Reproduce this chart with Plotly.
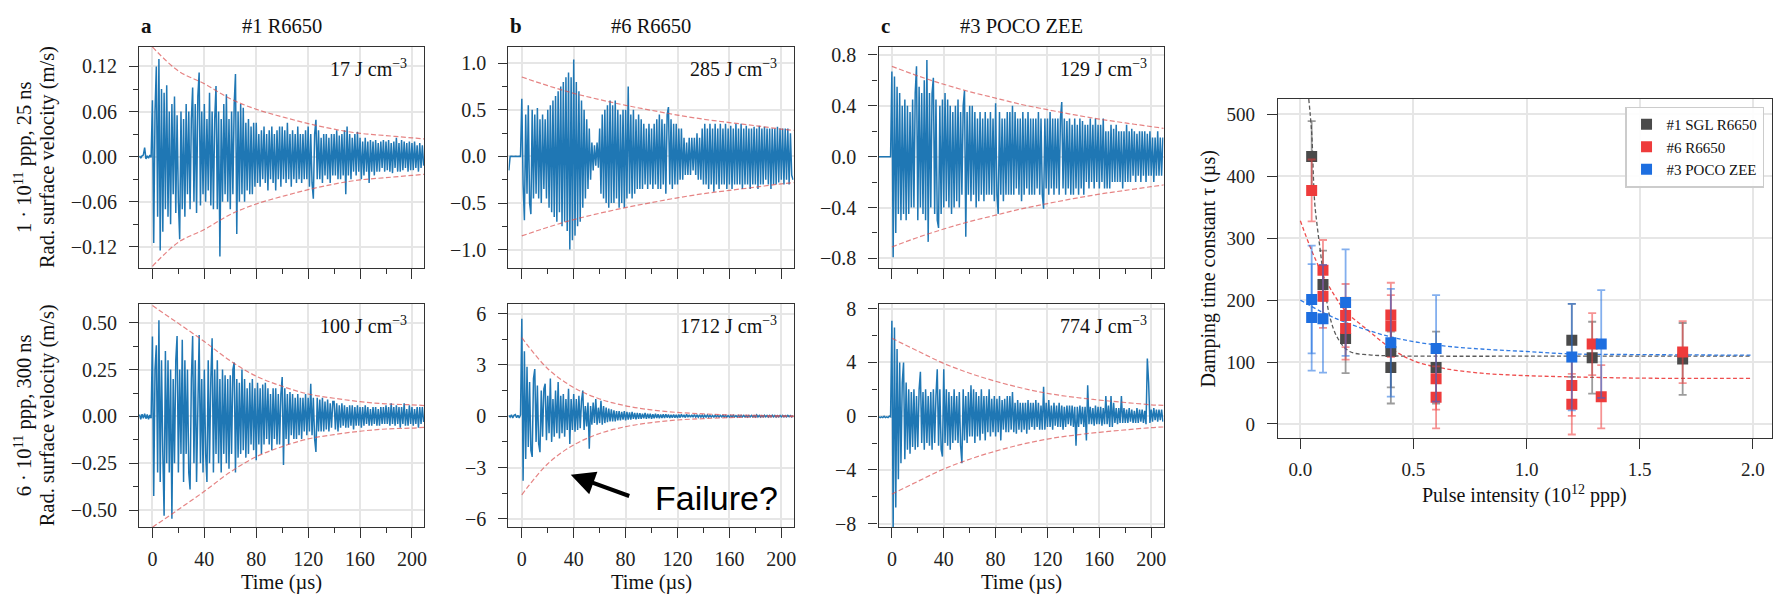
import numpy as np
import plotly.graph_objects as go

# ---------------- data: waveforms (sampled every 1 us from -10 us) ----------------
T_START, T_STEP = -10, 1

vel_a_top = [
    0.001, -0.002, 0.001, 0.002, 0.012, -0.003, 0.001, -0.002, 0.002, -0.001,
    0.075, -0.115, 0.06, 0.12, -0.08, 0.13, -0.125, 0.09, -0.1, 0.085,
    -0.07, 0.095, -0.08, 0.06, -0.09, 0.07, -0.05, 0.08, -0.075, 0.055,
    -0.06, -0.11, 0.06, -0.07, 0.05, -0.08, 0.07, -0.05, 0.06, -0.07,
    0.05, 0.092, -0.06, 0.07, -0.075, 0.08, 0.112, -0.065, 0.06, -0.05,
    0.07, -0.06, 0.05, -0.045, 0.085, -0.065, 0.06, -0.07, 0.05, 0.094,
    -0.07, 0.06, -0.133, 0.05, -0.06, 0.07, -0.05, 0.083, -0.06, 0.05,
    -0.07, 0.06, -0.05, 0.07, 0.11, -0.103, 0.06, -0.06, 0.07, -0.05,
    0.065, -0.06, 0.045, -0.045, 0.05, -0.05, 0.04, -0.05, 0.045, -0.04,
    0.045, -0.035, 0.03, -0.04, 0.035, -0.03, 0.04, -0.035, 0.03, -0.045,
    0.035, -0.03, 0.04, -0.035, 0.03, -0.045, 0.035, -0.03, 0.04, -0.04,
    0.04, -0.03, 0.035, -0.035, 0.045, -0.03, 0.03, -0.04, 0.035, -0.03,
    0.03, -0.035, 0.04, -0.03, 0.03, -0.035, 0.03, -0.03, 0.035, -0.03,
    0.04, -0.04, 0.03, -0.035, -0.056, 0.03, 0.049, -0.03, 0.035, -0.03,
    0.025, -0.035, 0.03, -0.025, 0.03, -0.03, 0.025, -0.035, 0.03, -0.025,
    0.03, -0.025, 0.035, -0.03, 0.028, -0.03, 0.03, -0.025, 0.035, -0.05,
    0.04, -0.025, 0.03, -0.03, 0.025, -0.02, 0.03, -0.025, 0.033, -0.02,
    0.025, -0.03, 0.02, -0.025, 0.025, -0.02, 0.02, -0.035, 0.022, -0.02,
    0.02, -0.025, 0.022, -0.02, 0.018, -0.02, 0.02, -0.015, 0.022, -0.02,
    0.02, -0.018, 0.022, -0.02, 0.018, -0.022, 0.02, -0.015, 0.025, -0.02,
    0.018, -0.02, 0.022, -0.018, 0.02, -0.015, 0.018, -0.02, 0.02, -0.018,
    0.018, -0.018, 0.02, -0.015, 0.015, -0.02, 0.018, -0.015, 0.015, -0.012]

vel_a_bot = [
    0.01, -0.015, 0.012, -0.01, 0.015, -0.012, 0.01, -0.015, 0.008, -0.01,
    0.427, -0.425, 0.25, 0.38, -0.3, 0.514, -0.35, 0.3, -0.2, -0.53,
    0.35, -0.25, 0.3, -0.3, 0.25, -0.547, 0.2, -0.25, 0.3, 0.43,
    -0.3, 0.25, -0.2, 0.41, -0.35, 0.3, -0.2, 0.25, -0.3, -0.39,
    0.2, 0.43, -0.25, 0.3, -0.35, 0.2, 0.435, -0.25, 0.2, -0.3,
    0.25, -0.2, -0.35, 0.3, -0.25, 0.2, 0.417, -0.3, 0.25, -0.2,
    0.3, -0.25, 0.2, -0.3, 0.25, -0.2, 0.22, -0.25, 0.2, -0.28,
    0.22, -0.2, 0.25, 0.288, -0.3, 0.2, -0.22, 0.18, -0.2, 0.25,
    -0.18, 0.2, -0.22, 0.15, -0.2, 0.18, -0.15, 0.2, -0.18, 0.15,
    -0.234, 0.18, -0.15, 0.15, -0.2, 0.17, -0.15, 0.18, -0.12, 0.15,
    -0.15, 0.12, -0.18, 0.15, -0.12, 0.15, -0.15, 0.12, -0.15, 0.12,
    0.21, -0.26, 0.15, -0.12, 0.12, -0.15, 0.13, -0.1, 0.12, -0.12,
    0.1, -0.12, 0.12, -0.1, 0.1, -0.12, 0.1, -0.08, 0.12, -0.1,
    0.1, -0.08, 0.175, -0.1, 0.1, -0.12, -0.19, 0.1, -0.08, 0.09,
    -0.08, 0.1, -0.08, 0.08, -0.07, 0.09, -0.08, 0.07, -0.06, 0.08,
    0.08, -0.07, 0.07, -0.08, 0.06, -0.06, 0.07, -0.05, 0.06, -0.06,
    0.05, -0.06, 0.06, -0.05, 0.06, -0.07, 0.05, -0.05, 0.06, -0.05,
    0.05, -0.06, 0.05, -0.05, 0.06, -0.04, 0.05, -0.05, 0.04, -0.05,
    0.05, -0.04, 0.05, -0.05, 0.04, -0.05, 0.05, -0.04, 0.05, -0.04,
    0.06, -0.04, 0.05, -0.05, 0.07, -0.04, 0.05, -0.05, 0.06, -0.04,
    0.05, -0.06, 0.05, -0.04, 0.07, -0.05, 0.04, -0.05, 0.06, -0.04,
    0.05, -0.05, 0.04, -0.04, 0.05, -0.06, 0.05, -0.04, 0.05, -0.03]

vel_b_top = [
    -0.15, 0.0, 0.003, -0.002, 0.0, 0.002, -0.002, 0.0, 0.002, 0.0,
    0.62, -0.3, -0.685, 0.45, -0.4, 0.55, -0.5, -0.62, 0.5, -0.45,
    0.45, -0.4, 0.52, -0.45, 0.4, -0.5, 0.45, -0.35, 0.4, -0.45,
    0.5, -0.55, 0.55, -0.6, 0.6, -0.65, 0.65, -0.7, 0.7, -0.6,
    0.75, -0.75, 0.8, -0.7, 0.85, -0.8, 0.9, -1.0, 0.85, -0.9,
    1.04, -0.85, 0.8, -0.75, 0.7, -0.7, 0.6, -0.55, 0.5, -0.45,
    0.4, -0.35, 0.3, -0.25, 0.15, -0.15, 0.12, -0.1, 0.15, -0.12,
    0.3, -0.4, 0.45, -0.45, 0.5, -0.5, 0.55, -0.55, 0.6, -0.5,
    0.55, -0.5, 0.6, -0.45, 0.5, -0.55, 0.45, -0.5, 0.5, -0.55,
    0.5, -0.45, 0.75, -0.4, 0.45, -0.45, 0.5, -0.4, 0.4, -0.35,
    0.45, -0.35, 0.4, -0.35, 0.35, -0.3, 0.3, -0.35, 0.35, -0.3,
    0.3, -0.35, 0.35, -0.3, 0.4, -0.35, 0.45, -0.35, 0.4, -0.3,
    0.35, -0.4, 0.45, 0.53, -0.3, 0.4, -0.35, 0.35, -0.3, 0.35,
    -0.3, 0.3, -0.25, 0.3, -0.25, 0.2, -0.2, 0.15, -0.2, 0.2,
    -0.2, 0.2, -0.15, 0.2, -0.2, 0.25, -0.25, 0.2, -0.25, 0.3,
    -0.3, 0.35, -0.3, 0.3, -0.35, 0.35, -0.3, 0.3, -0.38, 0.35,
    -0.3, 0.3, -0.35, 0.35, -0.3, 0.3, -0.3, 0.35, -0.35, 0.3,
    -0.3, 0.33, -0.35, 0.3, -0.3, 0.35, -0.3, 0.3, -0.3, 0.35,
    -0.35, 0.3, -0.3, 0.33, -0.3, 0.3, -0.35, 0.3, -0.3, 0.32,
    -0.3, 0.3, -0.35, 0.33, -0.3, 0.3, -0.3, 0.32, -0.25, 0.3,
    -0.3, 0.3, -0.35, 0.3, -0.3, 0.3, -0.3, 0.32, -0.28, 0.3,
    -0.25, 0.3, -0.3, 0.3, -0.25, 0.3, -0.3, 0.25, -0.2, -0.25]

vel_b_bot = [
    0.05, -0.05, 0.08, -0.1, 0.05, 0.1, -0.08, 0.05, -0.1, 0.08,
    5.7, -3.77, 3.8, -2.5, 2.9, -1.8, 2.0, -2.0, -2.38, 2.2,
    2.76, -1.5, 1.8, -1.6, -2.1, 1.5, -1.2, 1.6, 1.9, -1.4,
    1.2, -1.0, 2.2, -1.5, 1.0, -1.2, 1.5, -1.0, 2.0, -1.3,
    1.2, -1.0, 1.3, -1.2, 1.0, -0.8, 1.6, -1.62, 1.0, -0.8,
    1.3, -0.9, 1.0, -0.8, 1.2, -0.7, 0.9, 1.5, -0.8, 0.6,
    -0.6, 0.8, -1.9, 0.6, -0.5, 0.8, -0.4, 1.0, -0.5, 0.5,
    -0.4, 0.9, -0.5, 0.6, -0.4, 0.5, -0.35, 0.45, -0.3, 0.4,
    -0.3, 0.35, -0.3, 0.3, -0.25, 0.3, -0.25, 0.25, -0.2, 0.3,
    -0.25, 0.25, -0.2, 0.22, -0.2, 0.25, -0.15, 0.2, -0.18, 0.2,
    -0.15, 0.18, -0.15, 0.15, -0.12, 0.2, -0.15, 0.15, -0.12, 0.15,
    -0.15, 0.12, -0.12, 0.15, -0.1, 0.12, -0.12, 0.1, -0.1, 0.12,
    -0.1, 0.12, -0.08, 0.1, -0.1, 0.08, -0.08, 0.1, -0.08, 0.08,
    -0.1, 0.1, -0.08, 0.12, -0.06, 0.08, -0.08, 0.12, -0.06, 0.08,
    -0.06, 0.08, -0.06, 0.1, -0.05, 0.06, -0.06, 0.08, -0.05, 0.06,
    -0.06, 0.06, -0.05, 0.08, -0.05, 0.06, -0.05, 0.05, -0.05, 0.06,
    -0.04, 0.05, -0.05, 0.05, -0.04, 0.06, -0.04, 0.05, -0.05, 0.04,
    -0.05, 0.05, -0.04, 0.06, -0.04, 0.04, -0.05, 0.05, -0.04, 0.05,
    -0.04, 0.05, -0.04, 0.04, -0.05, 0.05, -0.04, 0.05, -0.04, 0.04,
    -0.04, 0.08, -0.04, 0.05, -0.05, 0.04, -0.04, 0.06, -0.04, 0.05,
    -0.05, 0.05, -0.04, 0.06, -0.04, 0.05, -0.05, 0.04, -0.04, 0.05,
    -0.04, 0.05, -0.04, 0.04, -0.04, 0.05, -0.03, 0.04, -0.04, 0.03]

vel_c_top = [
    0.0, 0.0, 0.0, 0.0, 0.0, 0.0, 0.0, 0.0, 0.0, 0.0,
    0.67, -0.79, 0.63, -0.6, 0.55, -0.45, 0.5, -0.5, 0.4, -0.45,
    0.45, -0.5, 0.4, -0.45, 0.35, -0.4, 0.45, -0.4, 0.5, 0.71,
    -0.5, 0.55, -0.4, 0.5, -0.45, 0.6, -0.5, 0.76, -0.67, 0.5,
    -0.4, 0.5, 0.62, -0.45, 0.45, -0.5, -0.56, 0.4, -0.45, 0.45,
    -0.4, 0.5, -0.35, 0.45, -0.4, 0.4, -0.45, 0.35, -0.4, 0.4,
    -0.35, 0.45, -0.4, 0.35, -0.3, 0.4, 0.52, -0.63, 0.35, -0.3,
    0.4, -0.35, 0.4, -0.3, 0.35, -0.4, 0.3, -0.35, 0.35, -0.3,
    0.3, -0.35, 0.35, -0.3, 0.3, -0.3, 0.35, -0.3, 0.3, -0.35,
    0.42, -0.3, -0.45, 0.35, -0.3, 0.3, -0.35, 0.3, -0.3, 0.35,
    -0.3, 0.35, -0.3, 0.4, -0.3, 0.35, -0.25, 0.3, -0.3, 0.3,
    -0.35, 0.35, -0.3, 0.3, -0.25, 0.35, -0.3, 0.3, -0.3, 0.3,
    -0.3, 0.3, -0.25, 0.35, -0.3, 0.3, -0.3, -0.41, 0.3, -0.25,
    0.3, -0.3, 0.35, -0.25, 0.3, -0.3, 0.3, -0.25, 0.3, -0.3,
    0.3, 0.43, -0.25, 0.3, -0.3, 0.28, -0.25, 0.3, -0.3, 0.25,
    -0.3, 0.3, -0.25, 0.25, -0.3, 0.3, -0.25, 0.28, -0.3, 0.25,
    -0.2, 0.25, -0.25, 0.3, -0.2, 0.25, -0.25, 0.3, -0.2, 0.25,
    -0.25, 0.25, -0.2, 0.3, -0.25, 0.2, -0.25, 0.2, -0.25, 0.25,
    -0.2, 0.22, -0.2, 0.25, -0.2, 0.2, -0.2, 0.2, -0.25, 0.2,
    -0.2, 0.25, -0.2, 0.2, -0.2, 0.22, -0.15, 0.2, -0.2, 0.18,
    -0.15, 0.2, -0.2, 0.2, -0.15, 0.2, -0.2, 0.18, -0.15, 0.2,
    -0.15, 0.15, -0.2, 0.15, -0.15, 0.2, -0.15, 0.15, -0.15, 0.15]

vel_c_bot = [
    -0.05, -0.1, -0.05, -0.1, 0.0, -0.1, -0.05, -0.1, 0.0, -0.05,
    7.1, -8.3, 6.6, -6.8, 5.0, -4.7, 4.0, -3.5, 2.5, 4.0,
    -3.2, 2.5, -2.5, 2.0, -2.8, 1.8, -2.3, 2.0, -2.5, 1.5,
    -2.3, 2.0, 3.3, -2.0, 1.8, -2.5, 2.0, -2.0, 1.5, -2.2,
    1.8, -2.5, 2.0, -2.0, 1.5, 3.5, -2.2, 2.0, -2.5, -3.0,
    3.5, -2.0, 2.0, -2.2, 1.8, -2.5, 1.5, -2.0, 2.0, -1.8,
    1.5, -2.0, 1.8, -2.2, -3.5, 2.0, -1.8, 1.5, -2.0, 1.8,
    -1.5, 2.3, -1.5, 2.0, -2.0, 1.8, -1.5, 1.5, -1.8, 2.0,
    -1.3, 1.5, -1.8, 1.5, -1.2, 2.0, -1.5, 1.3, -1.2, 1.5,
    -1.5, 1.3, -1.2, 1.5, -1.8, 1.2, -1.0, 1.3, -1.2, 1.5,
    -1.2, 1.5, -1.0, 1.8, -1.2, 1.0, -1.3, 1.2, -1.0, 1.0,
    -1.2, 1.0, -1.0, 1.0, -1.3, 1.2, -1.0, 1.0, -0.8, 1.0,
    -1.0, 1.2, -0.8, 1.0, -1.0, 0.8, -1.0, 2.2, -1.0, 1.0,
    -0.8, 1.2, -0.8, 0.8, -1.0, 1.0, -0.7, 0.8, -0.8, 1.0,
    -0.8, 0.8, -1.0, 0.7, -0.8, 0.8, -0.6, 0.8, -0.7, 0.8,
    -0.8, 0.7, -2.2, 0.7, -0.8, 0.8, -0.6, 0.7, -0.8, 0.7,
    -1.8, 2.3, -0.6, 0.7, -0.6, 0.6, -0.7, 0.8, -0.6, 0.7,
    -0.6, 0.7, -0.7, 0.6, -0.6, 1.5, -0.6, 0.8, -0.8, 1.5,
    -0.8, 1.0, -0.5, 0.6, -0.6, 0.6, -0.5, 1.5, -0.5, 0.6,
    -0.5, 0.5, -0.5, 0.6, -0.4, 0.5, -0.5, 0.4, -0.5, 0.6,
    -0.5, 0.5, -0.4, 0.5, -0.5, 0.4, -0.6, 4.3, 2.5, -0.5,
    0.5, -0.4, 0.6, -0.3, 0.5, -0.4, 0.5, -0.3, 0.5, -0.4]

# envelope (red dashed) read at these times
env_t = [0, 20, 40, 60, 80, 100, 120, 140, 160, 180, 200, 210]
env_a_top = [0.146, 0.114, 0.097, 0.077, 0.063, 0.053, 0.044, 0.0365, 0.031, 0.028, 0.025, 0.0235]
env_a_bot = [0.592, 0.497, 0.40, 0.297, 0.215, 0.161, 0.12, 0.097, 0.079, 0.067, 0.062, 0.058]
env_b_top = [0.853, 0.76, 0.678, 0.61, 0.549, 0.495, 0.444, 0.40, 0.364, 0.33, 0.294, 0.28]
env_b_bot = [4.6, 2.78, 1.68, 1.01, 0.61, 0.37, 0.22, 0.14, 0.08, 0.05, 0.03, 0.025]
env_c_top = [0.71, 0.635, 0.569, 0.51, 0.46, 0.41, 0.369, 0.33, 0.295, 0.265, 0.236, 0.222]
env_c_bot = [5.8, 4.85, 3.93, 3.2, 2.6, 2.1, 1.7, 1.42, 1.2, 1.02, 0.85, 0.8]

energy_labels = ["17 J cm<sup>−3</sup>", "285 J cm<sup>−3</sup>", "129 J cm<sup>−3</sup>",
                 "100 J cm<sup>−3</sup>", "1712 J cm<sup>−3</sup>", "774 J cm<sup>−3</sup>"]
column_titles = ["#1 R6650", "#6 R6650", "#3 POCO ZEE"]
column_letters = ["a", "b", "c"]
row_titles = ["1 · 10<sup>11</sup> ppp, 25 ns", "6 · 10<sup>11</sup> ppp, 300 ns"]

# ---------------- data: damping time constant ----------------
sgl_x = [0.05, 0.1, 0.2, 0.4, 0.4, 0.6, 1.2, 1.29, 1.69]
sgl_tau = [432, 225, 138, 117, 91, 91, 135, 107, 105]
sgl_err = [57, 55, 56, 58, 58, 58, 59, 58, 58]

r6_x = [0.05, 0.1, 0.1, 0.2, 0.2, 0.4, 0.4, 0.6, 0.6, 1.2, 1.2, 1.29, 1.33, 1.69]
r6_tau = [377, 248, 206, 175, 154, 176, 158, 73, 43, 62, 32, 129, 44, 116]
r6_err = [50, 49, 51, 51, 50, 52, 50, 50, 50, 49, 49, 50, 51, 50]

poco_x = [0.05, 0.05, 0.1, 0.2, 0.4, 0.6, 1.2, 1.33]
poco_tau = [201, 172, 170, 196, 131, 122, 108, 129]
poco_err = [87, 86, 87, 86, 87, 86, 86, 87]

fit_sgl_x = [0.037, 0.05, 0.063, 0.075, 0.088, 0.1, 0.129, 0.166, 0.218, 0.306, 0.4, 0.6, 1.0, 1.5, 1.99]
fit_sgl_y = [525, 470, 359, 318, 280, 245, 175, 138, 117, 111.6, 110, 109.4, 109.4, 109.4, 109.4]
fit_r6_x = [0.0, 0.05, 0.1, 0.15, 0.2, 0.3, 0.4, 0.5, 0.63, 0.8, 1.0, 1.2, 1.5, 1.99]
fit_r6_y = [328, 280, 240, 208, 182, 151, 122, 102, 90, 82, 78, 76, 74, 73.5]
fit_poco_x = [0.0, 0.1, 0.2, 0.4, 0.6, 0.8, 1.0, 1.2, 1.5, 1.99]
fit_poco_y = [200, 180, 164, 140.5, 127.5, 121, 117, 113, 112, 111]

# ---------------- styling ----------------
W, H = 1785, 602
SERIF = "Liberation Serif"
AX = "#333333"
GRID = "#e6e6e6"
WAVE = "#1f77b4"
ENV = "rgba(220,80,80,0.7)"
C_SGL, C_R6, C_POCO = "#4a4a4a", "#ee3b3b", "#1d6ee0"

col_x = [(139.3, 425.0), (509.3, 795.0), (880.0, 1165.5)]
row_y = [(41.7, 267.8), (305.0, 533.3)]

waves = [[vel_a_top, vel_b_top, vel_c_top], [vel_a_bot, vel_b_bot, vel_c_bot]]
envs = [[env_a_top, env_b_top, env_c_top], [env_a_bot, env_b_bot, env_c_bot]]
yranges = [[[-0.1477, 0.1463], [-1.193, 1.178], [-0.872, 0.864]],
           [[-0.590, 0.601], [-6.474, 6.571], [-8.24, 8.36]]]
ytickvals = [[[-0.12, -0.06, 0, 0.06, 0.12], [-1.0, -0.5, 0, 0.5, 1.0], [-0.8, -0.4, 0, 0.4, 0.8]],
             [[-0.5, -0.25, 0, 0.25, 0.5], [-6, -3, 0, 3, 6], [-8, -4, 0, 4, 8]]]
yminor = [[0.03, 0.25, 0.2], [0.125, 1.5, 2]]
yfmt = [[".2f", ".1f", ".1f"], [".2f", "d", "d"]]

fig = go.Figure()
layout = dict(width=W, height=H, autosize=False, margin=dict(l=0, r=0, t=0, b=0),
              paper_bgcolor="white", plot_bgcolor="white", showlegend=True,
              font=dict(family=SERIF, size=20, color="#111"))
annotations = []


def dom_x(p):
    return [p[0] / W, p[1] / W]


def dom_y(p):
    return [1 - p[1] / H, 1 - p[0] / H]


idx = 0
for r in range(2):
    for c in range(3):
        idx += 1
        xa = "x" if idx == 1 else f"x{idx}"
        ya = "y" if idx == 1 else f"y{idx}"
        vel = waves[r][c]
        tt = T_START + T_STEP * np.arange(len(vel))
        fig.add_trace(go.Scatter(x=tt, y=vel, mode="lines", line=dict(color=WAVE, width=1.5),
                                 xaxis=xa, yaxis=ya, showlegend=False, hoverinfo="skip"))
        env = envs[r][c]
        for sgn in (1, -1):
            fig.add_trace(go.Scatter(x=env_t, y=[sgn * v for v in env], mode="lines",
                                     line=dict(color=ENV, width=1.2, dash="5px,2.5px", shape="spline"),
                                     xaxis=xa, yaxis=ya, showlegend=False, hoverinfo="skip"))
        key = "" if idx == 1 else str(idx)
        layout["xaxis" + key] = dict(
            domain=dom_x(col_x[c]), anchor=ya, range=[-10.3, 209.5],
            tickvals=[0, 40, 80, 120, 160, 200], ticks="outside", ticklen=10, tickwidth=1.2,
            tickcolor=AX, showticklabels=(r == 1), tickfont=dict(family=SERIF, size=20, color="#222"),
            showgrid=True, gridcolor=GRID, gridwidth=1.5, zeroline=False,
            showline=True, linecolor=AX, linewidth=1.3, mirror=True,
            minor=dict(ticks="outside", ticklen=5, tickwidth=1, tickcolor=AX, dtick=20, tick0=0, showgrid=False),
            ticklabelstandoff=4)
        layout["yaxis" + key] = dict(
            domain=dom_y(row_y[r]), anchor=xa, range=yranges[r][c],
            tickvals=ytickvals[r][c], tickformat=yfmt[r][c], ticks="outside", ticklen=9, tickwidth=1.2,
            tickcolor=AX, tickfont=dict(family=SERIF, size=20, color="#222"),
            showgrid=True, gridcolor=GRID, gridwidth=1.5, zeroline=False,
            showline=True, linecolor=AX, linewidth=1.3, mirror=True,
            minor=dict(ticks="outside", ticklen=5, tickwidth=1, tickcolor=AX,
                       dtick=yminor[r][c], tick0=0, showgrid=False),
            ticklabelstandoff=8)
        annotations.append(dict(text=energy_labels[idx - 1], xref=xa + " domain", yref=ya + " domain",
                                x=1, y=1, xanchor="right", yanchor="middle", xshift=-15, yshift=-21,
                                showarrow=False, font=dict(family=SERIF, size=20, color="#111")))
        if r == 0:
            annotations.append(dict(text=column_titles[c], xref=xa + " domain", yref="paper",
                                    x=0.5, y=1 - 20 / H, xanchor="center", yanchor="middle",
                                    showarrow=False, font=dict(family=SERIF, size=20.5, color="#111")))
            annotations.append(dict(text="<b>" + column_letters[c] + "</b>", xref="paper", yref="paper",
                                    x=col_x[c][0] / W, y=1 - 20 / H, xanchor="left", yanchor="middle",
                                    showarrow=False, font=dict(family=SERIF, size=21, color="#111")))
        else:
            annotations.append(dict(text="Time (µs)", xref=xa + " domain", yref="paper",
                                    x=0.5, y=1 - 590 / H, xanchor="center", yanchor="middle",
                                    showarrow=False, font=dict(family=SERIF, size=20.5, color="#111")))
    yc = 1 - (row_y[r][0] + row_y[r][1]) / 2 / H
    annotations.append(dict(text=row_titles[r], xref="paper", yref="paper", x=23 / W, y=yc,
                            xanchor="center", yanchor="middle", textangle=-90, showarrow=False,
                            font=dict(family=SERIF, size=20.5, color="#111")))
    annotations.append(dict(text="Rad. surface velocity (m/s)", xref="paper", yref="paper", x=47 / W, y=yc,
                            xanchor="center", yanchor="middle", textangle=-90, showarrow=False,
                            font=dict(family=SERIF, size=20.5, color="#111")))

# Failure? annotation (panel b, bottom)
annotations.append(dict(text="Failure?", xref="paper", yref="paper", x=718 / W, y=1 - 504 / H,
                        xanchor="center", yanchor="middle", showarrow=False,
                        font=dict(family="Liberation Sans", size=34, color="black")))
annotations.append(dict(text="", xref="paper", yref="paper", x=571.7 / W, y=1 - 480 / H,
                        ax=60, ay=21.7, showarrow=True, arrowhead=2, arrowsize=1.2,
                        arrowwidth=4, arrowcolor="black"))

# ---------------- right panel ----------------
R_X = (1280.0, 1775.0)
R_Y = (95.0, 442.5)
for fx, fy, col in [(fit_sgl_x, fit_sgl_y, C_SGL), (fit_r6_x, fit_r6_y, C_R6), (fit_poco_x, fit_poco_y, C_POCO)]:
    fig.add_trace(go.Scatter(x=fx, y=fy, mode="lines", xaxis="x7", yaxis="y7", showlegend=False,
                             line=dict(color=col, width=1.3, dash="4px,2.5px", shape="spline"),
                             opacity=0.9, hoverinfo="skip"))


def rgba(hexc, a):
    h = hexc.lstrip("#")
    return f"rgba({int(h[0:2], 16)},{int(h[2:4], 16)},{int(h[4:6], 16)},{a})"


for name, xs, ys, es, col in [("#1 SGL R6650", sgl_x, sgl_tau, sgl_err, C_SGL),
                              ("#6 R6650", r6_x, r6_tau, r6_err, C_R6),
                              ("#3 POCO ZEE", poco_x, poco_tau, poco_err, C_POCO)]:
    fig.add_trace(go.Scatter(x=xs, y=ys, mode="markers", name=name, xaxis="x7", yaxis="y7",
                             marker=dict(symbol="square", size=11, color=col),
                             error_y=dict(type="data", array=es, color=rgba(col, 0.55), thickness=1.8, width=4),
                             hoverinfo="skip"))

layout["xaxis7"] = dict(domain=dom_x(R_X), anchor="y7", range=[-0.0995, 2.085],
                        tickvals=[0, 0.5, 1.0, 1.5, 2.0], tickformat=".1f", ticks="outside", ticklen=10,
                        tickwidth=1.2, tickcolor=AX, tickfont=dict(family=SERIF, size=19, color="#222"),
                        showgrid=True, gridcolor=GRID, gridwidth=1.5, zeroline=False,
                        showline=True, linecolor=AX, linewidth=1.3, mirror=True, ticklabelstandoff=4)
layout["yaxis7"] = dict(domain=[1 - R_Y[1] / H, 1 - R_Y[0] / H], anchor="x7", range=[-23, 525],
                        tickvals=[0, 100, 200, 300, 400, 500], ticks="outside", ticklen=10,
                        tickwidth=1.2, tickcolor=AX, tickfont=dict(family=SERIF, size=19, color="#222"),
                        showgrid=True, gridcolor=GRID, gridwidth=1.5, zeroline=False,
                        showline=True, linecolor=AX, linewidth=1.3, mirror=True, ticklabelstandoff=8)
annotations.append(dict(text="Damping time constant τ (µs)", xref="paper", yref="paper",
                        x=1211 / W, y=1 - (R_Y[0] + R_Y[1]) / 2 / H, xanchor="center", yanchor="middle",
                        textangle=-90, showarrow=False, font=dict(family=SERIF, size=20, color="#111")))
annotations.append(dict(text="Pulse intensity (10<sup>12</sup> ppp)", xref="paper", yref="paper",
                        x=(R_X[0] + R_X[1]) / 2 / W, y=1 - 500 / H, xanchor="center", yanchor="middle",
                        showarrow=False, font=dict(family=SERIF, size=20, color="#111")))

layout["legend"] = dict(x=1767 / W, y=1 - 103 / H, xanchor="right", yanchor="top",
                        bgcolor="rgba(255,255,255,0.9)", bordercolor="#cccccc", borderwidth=1.5,
                        font=dict(family=SERIF, size=15, color="#111"), tracegroupgap=2)
layout["annotations"] = annotations
fig.update_layout(**layout)
fig.write_html("out.html")
